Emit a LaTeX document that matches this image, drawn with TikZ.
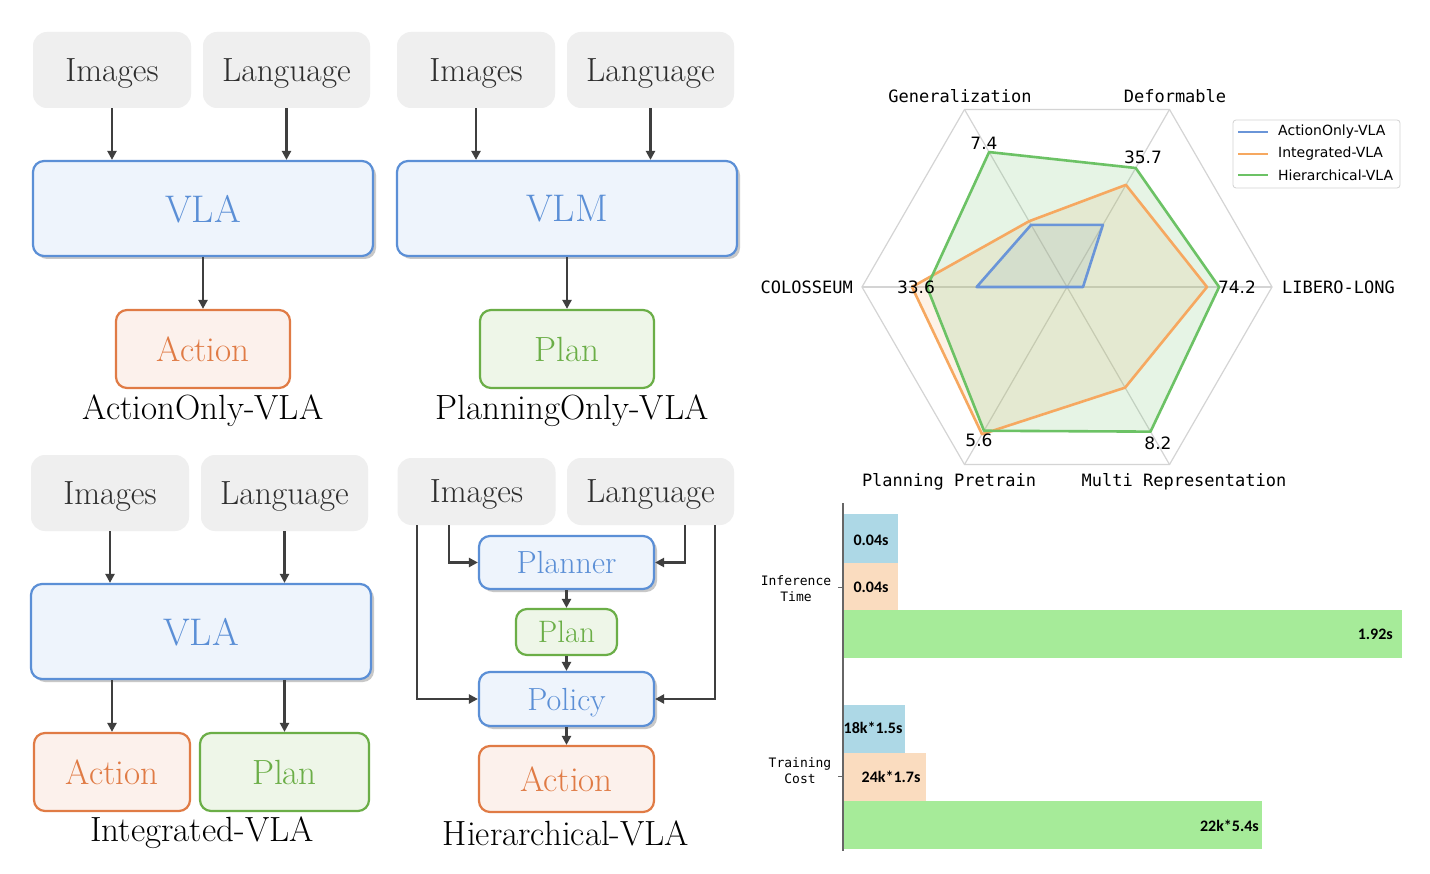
\documentclass[tikz,border=0pt]{standalone}
\usepackage{fontspec}
\newfontfamily\monof{DejaVu Sans Mono}
\newfontfamily\sansf{DejaVu Sans}
\newfontfamily\barf{Carlito}
\usetikzlibrary{arrows.meta,shadows}
\definecolor{grayfill}{HTML}{EFEFEF}
\definecolor{textgray}{HTML}{2E2E2E}
\definecolor{bluefill}{HTML}{EEF4FC}
\definecolor{blueline}{HTML}{5B8FD6}
\definecolor{orangefill}{HTML}{FCF1EC}
\definecolor{orangeline}{HTML}{E07B45}
\definecolor{greenfill}{HTML}{EEF6E8}
\definecolor{greenline}{HTML}{6BAE47}
\definecolor{arrowcol}{HTML}{3F3F3F}
\definecolor{rblue}{HTML}{6A95D8}
\definecolor{rorange}{HTML}{F6A860}
\definecolor{rgreen}{HTML}{6CC265}
\definecolor{gridcol}{HTML}{D4D4D4}
\definecolor{barblue}{HTML}{ADD8E6}
\definecolor{barorange}{HTML}{FADCBF}
\definecolor{bargreen}{HTML}{A6EB99}
\tikzset{
  graybox/.style={fill=grayfill, rounded corners=14pt, inner sep=0pt, text depth=0pt, text=textgray, font=\fontsize{33.5}{38}\selectfont},
  bluebox/.style={fill=bluefill, draw=blueline, line width=2.2pt, rounded corners=11pt, inner sep=0pt, text depth=0pt, text=blueline,
    drop shadow={shadow xshift=3pt, shadow yshift=-3pt, opacity=0.3, fill=black!70}},
  orangebox/.style={fill=orangefill, draw=orangeline, line width=2.2pt, rounded corners=11pt, inner sep=0pt, text depth=0pt, text=orangeline, font=\fontsize{35}{40}\selectfont},
  greenbox/.style={fill=greenfill, draw=greenline, line width=2.2pt, rounded corners=11pt, inner sep=0pt, text depth=0pt, text=greenline, font=\fontsize{35}{40}\selectfont},
  caption/.style={font=\fontsize{35}{40}\selectfont, text=black, inner sep=0pt},
  arr/.style={draw=arrowcol, line width=2.4pt, -{Triangle[length=9pt,width=9pt]}},
  axlabel/.style={font=\monof\fontsize{17}{20}\selectfont, inner sep=0pt},
  vallabel/.style={font=\sansf\fontsize{17}{20}\selectfont, inner sep=0pt},
  leglabel/.style={font=\sansf\fontsize{14}{16}\selectfont, inner sep=0pt, anchor=west},
  barlabel/.style={font=\barf\bfseries\fontsize{16}{18}\selectfont, inner sep=0pt},
  barax/.style={font=\monof\fontsize{13}{16}\selectfont, inner sep=0pt, align=center},
}
\begin{document}
\begin{tikzpicture}[x=1pt,y=-1pt]
\path[use as bounding box, fill=white] (0,0) rectangle (1430,874);

% ---------- Panel 1: ActionOnly-VLA ----------
\node[graybox, minimum width=158pt, minimum height=76pt] (i1) at (112,70) {Images};
\node[graybox, minimum width=167pt, minimum height=76pt] (l1) at (286.5,70) {Language};
\node[bluebox, minimum width=340pt, minimum height=95pt, font=\fontsize{38.5}{42}\selectfont] (vla1) at (203,208.5) {VLA};
\node[orangebox, minimum width=174pt, minimum height=78pt] (a1) at (203,349) {Action};
\node[caption] (cap1) at (203,411) {ActionOnly-VLA};
\draw[arr] (i1.south) -- (i1.south |- vla1.north);
\draw[arr] (l1.south) -- (l1.south |- vla1.north);
\draw[arr] (vla1.south) -- (a1.north);

% ---------- Panel 2: PlanningOnly-VLA ----------
\node[graybox, minimum width=158pt, minimum height=76pt] (i2) at (476,70) {Images};
\node[graybox, minimum width=167pt, minimum height=76pt] (l2) at (650.5,70) {Language};
\node[bluebox, minimum width=340pt, minimum height=95pt, font=\fontsize{38.5}{42}\selectfont] (vlm) at (567,208.5) {VLM};
\node[greenbox, minimum width=174pt, minimum height=78pt] (p2) at (567,349) {Plan};
\node[caption] (cap2) at (572,411) {PlanningOnly-VLA};
\draw[arr] (i2.south) -- (i2.south |- vlm.north);
\draw[arr] (l2.south) -- (l2.south |- vlm.north);
\draw[arr] (vlm.south) -- (p2.north);

% ---------- Panel 3: Integrated-VLA ----------
\node[graybox, minimum width=158pt, minimum height=76pt] (i3) at (110,493) {Images};
\node[graybox, minimum width=167pt, minimum height=76pt] (l3) at (284.5,493) {Language};
\node[bluebox, minimum width=340pt, minimum height=95pt, font=\fontsize{38.5}{42}\selectfont] (vla3) at (201,631.5) {VLA};
\node[orangebox, minimum width=156pt, minimum height=78pt] (a3) at (112,772) {Action};
\node[greenbox, minimum width=169pt, minimum height=78pt] (p3) at (284.5,772) {Plan};
\node[caption] (cap3) at (202,833) {Integrated-VLA};
\draw[arr] (i3.south) -- (i3.south |- vla3.north);
\draw[arr] (l3.south) -- (l3.south |- vla3.north);
\draw[arr] (a3.north |- vla3.south) -- (a3.north);
\draw[arr] (p3.north |- vla3.south) -- (p3.north);

% ---------- Panel 4: Hierarchical-VLA ----------
\node[graybox, minimum width=158pt, minimum height=67pt] (i4) at (476.5,491.5) {Images};
\node[graybox, minimum width=167pt, minimum height=67pt] (l4) at (650.5,491.5) {Language};
\node[bluebox, minimum width=175pt, minimum height=53pt, font=\fontsize{32}{36}\selectfont] (planner) at (566.5,562.5) {Planner};
\node[greenbox, minimum width=101pt, minimum height=46pt, font=\fontsize{31}{34}\selectfont] (plan4) at (566.5,632) {Plan};
\node[bluebox, minimum width=175pt, minimum height=54pt, font=\fontsize{32}{36}\selectfont] (policy) at (566.5,699) {Policy};
\node[orangebox, minimum width=175pt, minimum height=66pt] (a4) at (566.5,779) {Action};
\node[caption] (cap4) at (566,833) {Hierarchical-VLA};
\draw[arr] ([xshift=-27.5pt]i4.south) |- (planner.west);
\draw[arr] ([xshift=-59.5pt]i4.south) |- (policy.west);
\draw[arr] ([xshift=34.5pt]l4.south) |- (planner.east);
\draw[arr] ([xshift=64.5pt]l4.south) |- (policy.east);
\draw[arr] (planner.south) -- (plan4.north);
\draw[arr] (plan4.south) -- (policy.north);
\draw[arr] (policy.south) -- (a4.north);

% ---------- Radar chart ----------
\begin{scope}[shift={(1067,287)}]
  \draw[gridcol, line width=1.2pt] (0:205) -- (-60:205) -- (-120:205) -- (180:205) -- (120:205) -- (60:205) -- cycle;
  \foreach \a in {0,-60,-120,180,120,60} \draw[gridcol, line width=1.2pt] (0,0) -- (\a:205);
  % fills
  \fill[rblue, opacity=0.15] (0:16) -- (-60:71.8) -- (-120:71.8) -- (180:90.4) -- (120:0) -- (60:0) -- cycle;
  \fill[rorange, opacity=0.15] (0:140) -- (-60:117.9) -- (-120:75.9) -- (180:155) -- (120:170) -- (60:116.2) -- cycle;
  \fill[rgreen, opacity=0.17] (0:152.1) -- (-60:137.4) -- (-120:155.8) -- (180:140) -- (120:166) -- (60:167) -- cycle;
  % lines
  \draw[rblue, line width=2.6pt, line join=round] (0:16) -- (-60:71.8) -- (-120:71.8) -- (180:90.4) -- (120:0) -- (60:0) -- cycle;
  \draw[rorange, line width=2.6pt, line join=round] (0:140) -- (-60:117.9) -- (-120:75.9) -- (180:155) -- (120:170) -- (60:116.2) -- cycle;
  \draw[rgreen, line width=2.6pt, line join=round] (0:152.1) -- (-60:137.4) -- (-120:155.8) -- (180:140) -- (120:166) -- (60:167) -- cycle;
\end{scope}
% axis labels
\node[axlabel] (axgen) at (960,96) {Generalization};
\node[axlabel] (axdef) at (1175,96) {Deformable};
\node[axlabel, anchor=west] (axlib) at (1282,287) {LIBERO-LONG};
\node[axlabel] (axmul) at (1184,482) {Multi Representation};
\node[axlabel] (axpla) at (949,482) {Planning Pretrain};
\node[axlabel, anchor=east] (axcol) at (853,287) {COLOSSEUM};
% value labels
\node[vallabel] (v1) at (984,143) {7.4};
\node[vallabel] (v2) at (1143,157) {35.7};
\node[vallabel] (v3) at (1237,287) {74.2};
\node[vallabel] (v4) at (1158,443) {8.2};
\node[vallabel] (v5) at (979,440) {5.6};
\node[vallabel] (v6) at (916,287) {33.6};
% legend
\draw[gray!35, fill=white, line width=0.8pt, rounded corners=3pt] (1233,120) rectangle (1400,188);
\draw[rblue, line width=2.2pt] (1238,132) -- (1268,132);
\draw[rorange, line width=2.2pt] (1238,154) -- (1268,154);
\draw[rgreen, line width=2.2pt] (1238,175) -- (1268,175);
\node[leglabel] (lg1) at (1278,132) {ActionOnly-VLA};
\node[leglabel] (lg2) at (1278,154) {Integrated-VLA};
\node[leglabel] (lg3) at (1278,175) {Hierarchical-VLA};

% ---------- Bar chart ----------
\fill[barblue] (843,514) rectangle (898,563);
\fill[barorange] (843,563) rectangle (898,610);
\fill[bargreen] (843,610) rectangle (1402,658);
\fill[barblue] (843,705) rectangle (905,753);
\fill[barorange] (843,753) rectangle (926,801);
\fill[bargreen] (843,801) rectangle (1262,849);
\draw[gray!80!black, line width=1.6pt] (843,503) -- (843,851);
\draw[gray!80!black, line width=1pt] (838,587) -- (843,587);
\draw[gray!80!black, line width=1pt] (838,776) -- (843,776);
\node[barax] (bx1) at (796,589) {Inference\\Time};
\node[barax] (bx2) at (800,771) {Training\\Cost};
\node[barlabel] (b1) at (871,540) {0.04s};
\node[barlabel] (b2) at (871,587) {0.04s};
\node[barlabel, anchor=east] (b3) at (1393,634) {1.92s};
\node[barlabel] (b4) at (873,728) {18k*1.5s};
\node[barlabel] (b5) at (891,777) {24k*1.7s};
\node[barlabel, anchor=east] (b6) at (1259,826) {22k*5.4s};
\end{tikzpicture}
\end{document}
